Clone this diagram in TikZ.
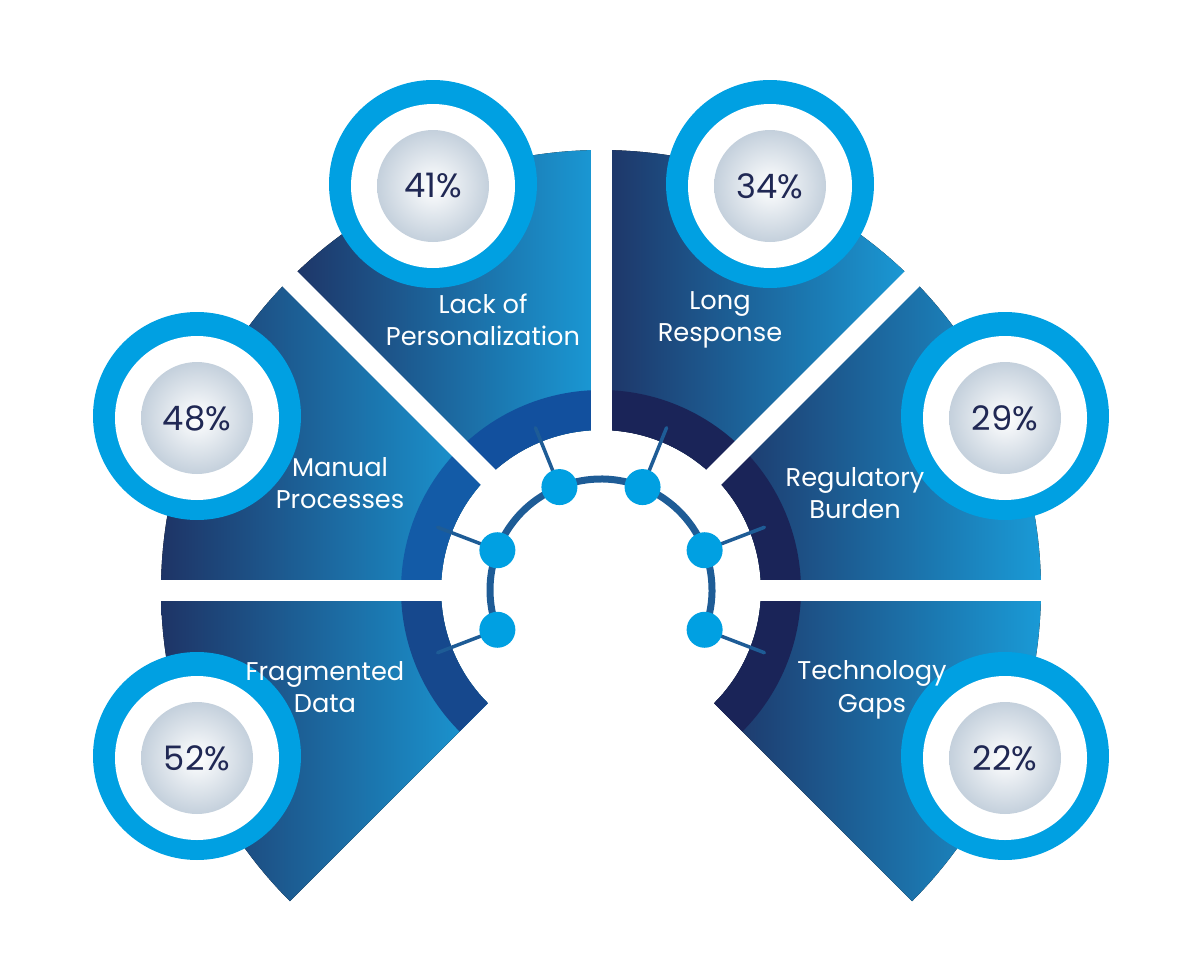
\documentclass[tikz,border=0pt]{standalone}
\usepackage{fontspec}
\setmainfont{Poppins}
\usetikzlibrary{calc}
\definecolor{navy}{RGB}{30,52,102}
\definecolor{skyblue}{RGB}{26,154,214}
\definecolor{ringblue}{RGB}{0,160,226}
\definecolor{bandleft}{RGB}{18,80,158}
\definecolor{bandright}{RGB}{26,36,88}
\definecolor{hubline}{RGB}{30,92,150}
\definecolor{pcttext}{RGB}{32,40,84}
\definecolor{pearl}{RGB}{196,208,220}

\tikzset{
  segtext/.style={text=white,font=\fontsize{7.3}{9.2}\selectfont,align=center},
  pctdisc/.style={circle,inner sep=0pt,minimum size=1.12cm,inner color=white,outer color=pearl,text=pcttext,font=\fontsize{9.6}{11}\selectfont},
  segshade/.style={left color=navy,right color=skyblue,shading angle=90}
}

\newcommand{\sector}[3]{% start, end, style
  \fill[#3] ($(C)+(#1:4.40)$) arc[start angle=#1,end angle=#2,radius=4.40]
    -- ($(C)+(#2:1.60)$) arc[start angle=#2,end angle=#1,radius=1.60] -- cycle;}
\newcommand{\band}[3]{%
  \fill[#3] ($(C)+(#1:2.00)$) arc[start angle=#1,end angle=#2,radius=2.00]
    -- ($(C)+(#2:1.60)$) arc[start angle=#2,end angle=#1,radius=1.60] -- cycle;}
\newcommand{\badge}[3]{% name, position, text
  \fill[ringblue] #2 ++(0,0.02) circle (1.04);
  \fill[white] #2 circle (0.82);
  \node[pctdisc] (#1) at #2 {#3};}

\begin{document}
\begin{tikzpicture}[line cap=round,line join=round]
\useasboundingbox (0,0) rectangle (12,9.6);
\coordinate (C) at (6.01,3.70);
% segments
\sector{90}{135}{segshade}
\sector{135}{180}{segshade}
\sector{180}{225}{segshade}
\sector{-45}{0}{segshade}
\sector{0}{45}{segshade}
\sector{45}{90}{segshade}
\band{90}{135}{bandleft}
\band{135}{180}{bandleft!85!skyblue}
\band{180}{225}{bandleft!70!navy}
\band{-45}{0}{bandright}
\band{0}{45}{bandright}
\band{45}{90}{bandright}
% gaps
\foreach \a in {0,45,90,135,180}
  \draw[white,line width=0.21cm,line cap=butt] ($(C)+(\a:1.45)$) -- ($(C)+(\a:4.60)$);
% hub ring and dots
\draw[hubline,line width=0.07cm] ($(C)+(-21:1.11)$) arc[start angle=-21,end angle=201,radius=1.11];
\foreach \a/\n in {201/d1,159/d2,112/d3,68/d4,21/d5,-21/d6}{
  \draw[hubline,line width=0.035cm] ($(C)+(\a:1.11)$) -- ($(C)+(\a:1.75)$);
  \node[circle,fill=ringblue,inner sep=0pt,minimum size=0.36cm] (\n) at ($(C)+(\a:1.11)$) {};
}
% badges
\badge{p41}{(4.33,7.74)}{41\%}
\badge{p34}{(7.70,7.74)}{34\%}
\badge{p48}{(1.97,5.42)}{48\%}
\badge{p29}{(10.05,5.42)}{29\%}
\badge{p52}{(1.97,2.02)}{52\%}
\badge{p22}{(10.05,2.02)}{22\%}
% labels
\node[segtext] (lp) at (4.83,6.40) {Lack of\\Personalization};
\node[segtext] (lr) at (7.20,6.40) {Long\\Response};
\node[segtext] (mp) at (3.40,4.77) {Manual\\Processes};
\node[segtext] (rb) at (8.55,4.67) {Regulatory\\Burden};
\node[segtext] (fd) at (3.25,2.73) {Fragmented\\Data};
\node[segtext] (tg) at (8.72,2.70) {Technology\\Gaps};
\end{tikzpicture}
\end{document}
